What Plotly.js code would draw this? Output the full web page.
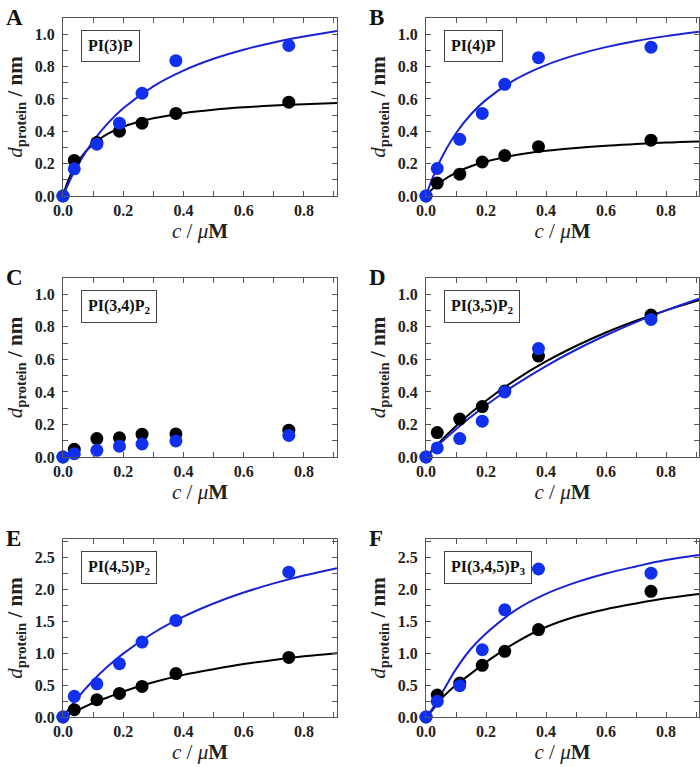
<!DOCTYPE html>
<html><head><meta charset="utf-8">
<script src="https://cdn.plot.ly/plotly-3.0.1.min.js"></script>
<style>html,body{margin:0;padding:0;background:#fff}</style>
</head><body>
<div id="chart" style="width:700px;height:767px"></div>
<script>
// concentrations (µM)
const conc = [0, 0.0375, 0.1125, 0.1875, 0.2625, 0.375, 0.75];
// sample points along fitted curves
const curveX = [0, 0.02, 0.05, 0.1, 0.15, 0.2, 0.3, 0.4, 0.5, 0.6, 0.7, 0.8, 0.91];

const panelLabels = ["A", "B", "C", "D", "E", "F"];
const lipidNames = ["PI(3)P", "PI(4)P", "PI(3,4)P<sub>2</sub>", "PI(3,5)P<sub>2</sub>", "PI(4,5)P<sub>2</sub>", "PI(3,4,5)P<sub>3</sub>"];

// measured d_protein (nm): black and blue series
const blackA = [0, 0.22, 0.33, 0.40, 0.45, 0.51, 0.58];
const blueA  = [0, 0.168, 0.32, 0.45, 0.635, 0.836, 0.93];
const blackB = [0, 0.08, 0.135, 0.21, 0.25, 0.305, 0.345];
const blueB  = [0, 0.17, 0.35, 0.51, 0.69, 0.855, 0.92];
const blackC = [0, 0.047, 0.113, 0.118, 0.14, 0.142, 0.165];
const blueC  = [0, 0.02, 0.041, 0.066, 0.08, 0.099, 0.132];
const blackD = [0, 0.15, 0.233, 0.31, 0.405, 0.62, 0.872];
const blueD  = [0, 0.056, 0.113, 0.22, 0.40, 0.666, 0.845];
const blackE = [0, 0.115, 0.27, 0.37, 0.48, 0.68, 0.934];
const blueE  = [0, 0.324, 0.52, 0.835, 1.174, 1.514, 2.27];
const blackF = [0, 0.344, 0.532, 0.81, 1.03, 1.37, 1.97];
const blueF  = [0, 0.245, 0.49, 1.054, 1.68, 2.32, 2.255];

// fitted curves
const fitBlackA = [0, 0.108, 0.215, 0.322, 0.385, 0.428, 0.48, 0.512, 0.533, 0.548, 0.559, 0.567, 0.575];
const fitBlueA  = [0, 0.085, 0.194, 0.339, 0.452, 0.542, 0.678, 0.775, 0.848, 0.904, 0.949, 0.986, 1.02];
const fitBlackB = [0, 0.041, 0.088, 0.145, 0.184, 0.213, 0.253, 0.279, 0.297, 0.311, 0.321, 0.33, 0.337];
const fitBlueB  = [0, 0.103, 0.229, 0.388, 0.505, 0.594, 0.722, 0.809, 0.872, 0.92, 0.958, 0.988, 1.015];
const fitBlackD = [0, 0.041, 0.1, 0.19, 0.272, 0.346, 0.476, 0.587, 0.682, 0.765, 0.837, 0.901, 0.963];
const fitBlueD  = [0, 0.036, 0.089, 0.171, 0.247, 0.318, 0.446, 0.559, 0.659, 0.748, 0.829, 0.901, 0.973];
const fitBlackE = [0, 0.04, 0.11, 0.22, 0.31, 0.40, 0.545, 0.66, 0.75, 0.83, 0.895, 0.952, 1.0];
const fitBlueE  = [0, 0.13, 0.31, 0.573, 0.798, 0.994, 1.317, 1.572, 1.779, 1.951, 2.094, 2.217, 2.333];
const fitBlackF = [0, 0.10, 0.28, 0.50, 0.68, 0.86, 1.17, 1.41, 1.575, 1.69, 1.78, 1.86, 1.93];
const fitBlueF  = [0, 0.12, 0.35, 0.75, 1.07, 1.31, 1.68, 1.93, 2.11, 2.25, 2.36, 2.46, 2.54];

const BLACK = "#000000";
const BLUE_MK = "#1030ee";
const BLUE_LN = "#1a22d2";
const SERIF = "'Liberation Serif', 'Times New Roman', serif";

const panels = [
  {bk: blackA, bl: blueA, fbk: fitBlackA, fbl: fitBlueA, ymax: 1.1, dy: 0.2, my: 0.1},
  {bk: blackB, bl: blueB, fbk: fitBlackB, fbl: fitBlueB, ymax: 1.1, dy: 0.2, my: 0.1},
  {bk: blackC, bl: blueC, fbk: null, fbl: null, ymax: 1.1, dy: 0.2, my: 0.1},
  {bk: blackD, bl: blueD, fbk: fitBlackD, fbl: fitBlueD, ymax: 1.1, dy: 0.2, my: 0.1},
  {bk: blackE, bl: blueE, fbk: fitBlackE, fbl: fitBlueE, ymax: 2.79, dy: 0.5, my: 0.25},
  {bk: blackF, bl: blueF, fbk: fitBlackF, fbl: fitBlueF, ymax: 2.79, dy: 0.5, my: 0.25}
];

const W = 700, H = 767;
const colPx = [[63, 337], [426, 699]];
const rowPx = [[18, 196], [278, 457], [539, 717]];

const traces = [];
const layout = {
  width: W, height: H,
  margin: {l: 0, r: 0, t: 0, b: 0},
  paper_bgcolor: "#fff", plot_bgcolor: "#fff",
  showlegend: false,
  annotations: []
};

panels.forEach((p, i) => {
  const n = i + 1;
  const xs = n === 1 ? "x" : "x" + n;
  const ys = n === 1 ? "y" : "y" + n;
  const col = i % 2, row = Math.floor(i / 2);
  const cp = colPx[col], rp = rowPx[row];

  if (p.fbk) traces.push({x: curveX, y: p.fbk, xaxis: xs, yaxis: ys, mode: "lines", line: {color: BLACK, width: 2, shape: "spline", smoothing: 1}, hoverinfo: "skip"});
  if (p.fbl) traces.push({x: curveX, y: p.fbl, xaxis: xs, yaxis: ys, mode: "lines", line: {color: BLUE_LN, width: 2, shape: "spline", smoothing: 1}, hoverinfo: "skip"});
  traces.push({x: conc, y: p.bk, xaxis: xs, yaxis: ys, mode: "markers", marker: {color: BLACK, size: 13}, cliponaxis: false});
  traces.push({x: conc, y: p.bl, xaxis: xs, yaxis: ys, mode: "markers", marker: {color: BLUE_MK, size: 13}, cliponaxis: false});

  const axCommon = {
    ticks: "inside", ticklen: 5, tickwidth: 1, tickcolor: "#555",
    showline: true, linecolor: "#555", linewidth: 1, mirror: "allticks",
    showgrid: false, zeroline: false,
    tickfont: {family: SERIF, size: 16, color: "#222", weight: "bold"},
    tickformat: ".1f"
  };
  layout["xaxis" + (n === 1 ? "" : n)] = Object.assign({}, axCommon, {
    domain: [cp[0] / W, cp[1] / W], anchor: ys,
    range: [0, 0.91], tick0: 0, dtick: 0.2,
    minor: {dtick: 0.1, ticks: "inside", ticklen: 5, tickcolor: "#555"},
    title: {text: "<i>c</i> / <i>μ</i><b>M</b>", font: {family: SERIF, size: 21, color: "#222"}, standoff: 5}
  });
  layout["yaxis" + (n === 1 ? "" : n)] = Object.assign({}, axCommon, {
    domain: [1 - rp[1] / H, 1 - rp[0] / H], anchor: xs,
    range: [0, p.ymax], tick0: 0, dtick: p.dy,
    minor: {dtick: p.my, ticks: "inside", ticklen: 5, tickcolor: "#555"},
    ticklabelstandoff: 4,
    title: {text: "<i>d</i><sub><b>protein</b></sub><b> / nm</b>", font: {family: SERIF, size: 21, color: "#222"}, standoff: 6}
  });

  // panel letter
  layout.annotations.push({
    text: "<b>" + panelLabels[i] + "</b>", xref: "paper", yref: "paper",
    x: (cp[0] - 59) / W, y: 1 - (rp[0] - 15) / H, xanchor: "left", yanchor: "top",
    showarrow: false, font: {family: SERIF, size: 23, color: "#111"}
  });
  // lipid name box
  layout.annotations.push({
    text: "<b>" + lipidNames[i] + "</b>", xref: "paper", yref: "paper",
    x: (cp[0] + 18) / W, y: 1 - (rp[0] + 12) / H, xanchor: "left", yanchor: "top",
    showarrow: false, font: {family: SERIF, size: 16, color: "#111"},
    bordercolor: "#444", borderwidth: 1, borderpad: 6, bgcolor: "#fff"
  });
});

Plotly.newPlot("chart", traces, layout, {displayModeBar: false, staticPlot: true});
</script>
</body></html>
